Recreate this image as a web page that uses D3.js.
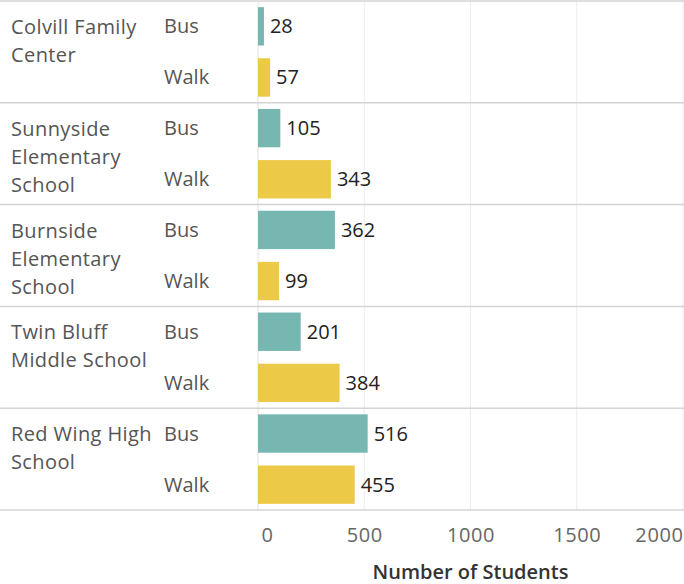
<!DOCTYPE html>
<html>
<head>
<meta charset="utf-8">
<script src="https://cdn.jsdelivr.net/npm/d3@7"></script>
<style>
  body { margin: 0; background: #fff; }
  text { font-family: "Open Sans", Lato, sans-serif; }
</style>
</head>
<body>
<div id="chart"></div>
<script>
  // chart data
  var schools = ["Colvill Family Center", "Sunnyside Elementary School", "Burnside Elementary School", "Twin Bluff Middle School", "Red Wing High School"];
  var schoolLines = [["Colvill Family", "Center"], ["Sunnyside", "Elementary", "School"], ["Burnside", "Elementary", "School"], ["Twin Bluff", "Middle School"], ["Red Wing High", "School"]];
  var modes = ["Bus", "Walk"];
  var busValues = [28, 105, 362, 201, 516];
  var walkValues = [57, 343, 99, 384, 455];
  var xTicks = [0, 500, 1000, 1500, 2000];

  (function() {
    var width = 684, height = 584;
    var topY = 1, groupH = 101.8;
    var colors = { Bus: "#76b7b2", Walk: "#edc948" };
    var font = "'Open Sans', Lato, sans-serif";

    var svg = d3.select("#chart").append("svg")
      .attr("width", width).attr("height", height);

    var x = d3.scaleLinear().domain([0, 2000]).range([258, 683]);
    var yGroup = d3.scaleBand().domain(schools).range([topY, topY + groupH * schools.length]);
    var yMode = d3.scaleBand().domain(modes).range([0, groupH]).paddingInner(0.25).paddingOuter(0.12);

    var rows = [];
    schools.forEach(function(s, i) {
      rows.push({ school: s, mode: "Bus", value: busValues[i] });
      rows.push({ school: s, mode: "Walk", value: walkValues[i] });
    });

    // gridlines
    svg.selectAll("line.grid").data(xTicks.slice(1)).enter().append("line")
      .attr("x1", function(d) { return x(d); }).attr("x2", function(d) { return x(d); })
      .attr("y1", topY).attr("y2", yGroup.range()[1])
      .attr("stroke", "#ececec").attr("stroke-width", 1);

    // zero line
    svg.append("line")
      .attr("x1", x(0)).attr("x2", x(0))
      .attr("y1", topY).attr("y2", yGroup.range()[1])
      .attr("stroke", "#e2e2e2");

    // group separators
    var seps = [topY].concat(schools.map(function(s) { return yGroup(s) + yGroup.bandwidth(); }));
    svg.selectAll("line.sep").data(seps).enter().append("line")
      .attr("x1", 0).attr("x2", width)
      .attr("y1", function(d) { return d; }).attr("y2", function(d) { return d; })
      .attr("stroke", "#d4d4d4").attr("stroke-width", 1.5);

    // bars
    svg.selectAll("rect.bar").data(rows).enter().append("rect")
      .attr("x", x(0))
      .attr("y", function(d) { return yGroup(d.school) + yMode(d.mode); })
      .attr("width", function(d) { return x(d.value) - x(0); })
      .attr("height", yMode.bandwidth())
      .attr("fill", function(d) { return colors[d.mode]; });

    // value labels
    svg.selectAll("text.val").data(rows).enter().append("text")
      .attr("x", function(d) { return x(d.value) + 6; })
      .attr("y", function(d) { return yGroup(d.school) + yMode(d.mode) + yMode.bandwidth() / 2; })
      .attr("dy", "0.35em")
      .attr("font-size", 20).attr("fill", "#222")
      .text(function(d) { return d.value; });

    // mode labels
    svg.selectAll("text.mode").data(rows).enter().append("text")
      .attr("x", 164)
      .attr("y", function(d) { return yGroup(d.school) + yMode(d.mode) + yMode.bandwidth() / 2; })
      .attr("dy", "0.35em")
      .attr("font-size", 20).attr("fill", "#555")
      .text(function(d) { return d.mode; });

    // school labels
    schools.forEach(function(s, i) {
      svg.append("text")
        .attr("x", 11).attr("y", yGroup(s) + 33)
        .attr("font-size", 20).attr("fill", "#555")
        .attr("letter-spacing", 0.4)
        .selectAll("tspan").data(schoolLines[i]).enter().append("tspan")
        .attr("x", 11).attr("dy", function(d, j) { return j === 0 ? 0 : 28; })
        .text(function(d) { return d; });
    });

    // x axis
    var axis = svg.append("g").attr("transform", "translate(0," + yGroup.range()[1] + ")")
      .call(d3.axisBottom(x).tickValues(xTicks).tickFormat(d3.format("d")).tickSize(0).tickPadding(18));
    axis.select(".domain").remove();
    axis.selectAll("text")
      .attr("font-size", 20).attr("fill", "#666")
      .attr("font-family", font)
      .attr("letter-spacing", 0.6)
      .attr("text-anchor", function(d, i) { return i === 0 ? "start" : (i === xTicks.length - 1 ? "end" : "middle"); })
      .attr("dx", function(d, i) { return i === 0 ? 3 : 0; });

    svg.append("text")
      .attr("x", x(1000)).attr("y", 579)
      .attr("text-anchor", "middle")
      .attr("font-size", 20).attr("font-weight", 600).attr("fill", "#333")
      .text("Number of Students");
  })();
</script>
</body>
</html>
